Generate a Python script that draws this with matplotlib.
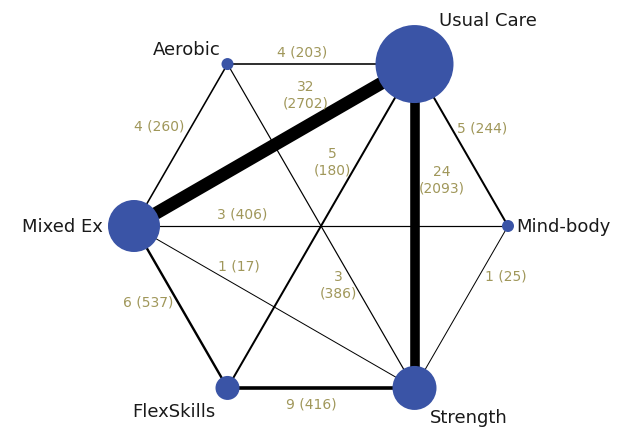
import numpy as np
import matplotlib
matplotlib.use("Agg")
import matplotlib.pyplot as plt
from matplotlib.patches import Circle

# ---- data ----
nodes = ["Usual Care", "Aerobic", "Mixed Ex", "FlexSkills", "Strength", "Mind-body"]
node_size = [39, 6, 26, 12, 22, 6]  # node radius (px) ~ sample size
edge_from = ["Aerobic", "Usual Care", "Aerobic", "Usual Care", "Usual Care", "Usual Care",
             "Aerobic", "Mixed Ex", "Mixed Ex", "Mixed Ex", "FlexSkills", "Mind-body"]
edge_to = ["Usual Care", "Mixed Ex", "Mixed Ex", "FlexSkills", "Strength", "Mind-body",
           "Strength", "Mind-body", "Strength", "FlexSkills", "Strength", "Strength"]
edge_studies = [4, 32, 4, 5, 24, 5, 3, 3, 1, 6, 9, 1]
edge_participants = [203, 2702, 260, 180, 2093, 244, 386, 406, 17, 537, 416, 25]

# ---- layout (pixel space) ----
W, H = 625, 429
cx, cy, R = 321, 226, 187
angles = {"Usual Care": 60, "Aerobic": 120, "Mixed Ex": 180,
          "FlexSkills": 240, "Strength": 300, "Mind-body": 0}
pos = {n: (cx + R * np.cos(np.radians(a)), cy - R * np.sin(np.radians(a)))
       for n, a in angles.items()}

fig = plt.figure(figsize=(W / 100, H / 100), dpi=100)
ax = fig.add_axes([0, 0, 1, 1])
ax.set_xlim(0, W)
ax.set_ylim(H, 0)
ax.set_aspect("equal")
ax.axis("off")

px2pt = 72 / 100
for a, b, s in zip(edge_from, edge_to, edge_studies):
    (x1, y1), (x2, y2) = pos[a], pos[b]
    lw_px = max(0.4 * s, 1.0)
    ax.plot([x1, x2], [y1, y2], color="black", lw=lw_px * px2pt,
            solid_capstyle="butt", zorder=1)

node_color = "#3A54A6"
for n, r in zip(nodes, node_size):
    ax.add_patch(Circle(pos[n], r, color=node_color, zorder=2, lw=0))

# edge labels
lab_color = "#A0975A"
edge_label_pos = {
    ("Aerobic", "Usual Care"): (302, 52, "one"),
    ("Usual Care", "Mixed Ex"): (306, 95, "two"),
    ("Aerobic", "Mixed Ex"): (159, 126, "one"),
    ("Usual Care", "FlexSkills"): (332, 162, "two"),
    ("Usual Care", "Strength"): (442, 180, "two"),
    ("Usual Care", "Mind-body"): (482, 129, "one"),
    ("Aerobic", "Strength"): (338, 285, "two"),
    ("Mixed Ex", "Mind-body"): (242, 214, "one"),
    ("Mixed Ex", "Strength"): (239, 266, "one"),
    ("Mixed Ex", "FlexSkills"): (148, 303, "one"),
    ("FlexSkills", "Strength"): (311, 404, "one"),
    ("Mind-body", "Strength"): (506, 277, "one"),
}
for a, b, s, p in zip(edge_from, edge_to, edge_studies, edge_participants):
    x, y, mode = edge_label_pos[(a, b)]
    txt = f"{s} ({p})" if mode == "one" else f"{s}\n({p})"
    ax.text(x, y, txt, color=lab_color, fontsize=10, ha="center", va="center",
            linespacing=1.2, family="DejaVu Sans", zorder=3)

# node labels
node_label_pos = {
    "Usual Care": (488, 21, "center"),
    "Aerobic": (221, 50, "right"),
    "Mixed Ex": (103, 227, "right"),
    "Mind-body": (516, 227, "left"),
    "FlexSkills": (174, 412, "center"),
    "Strength": (469, 418, "center"),
}
for n in nodes:
    x, y, ha = node_label_pos[n]
    ax.text(x, y, n, color="#1a1a1a", fontsize=13, ha=ha, va="center",
            family="DejaVu Sans", zorder=3)

fig.savefig("out.png", dpi=100, facecolor="white")
